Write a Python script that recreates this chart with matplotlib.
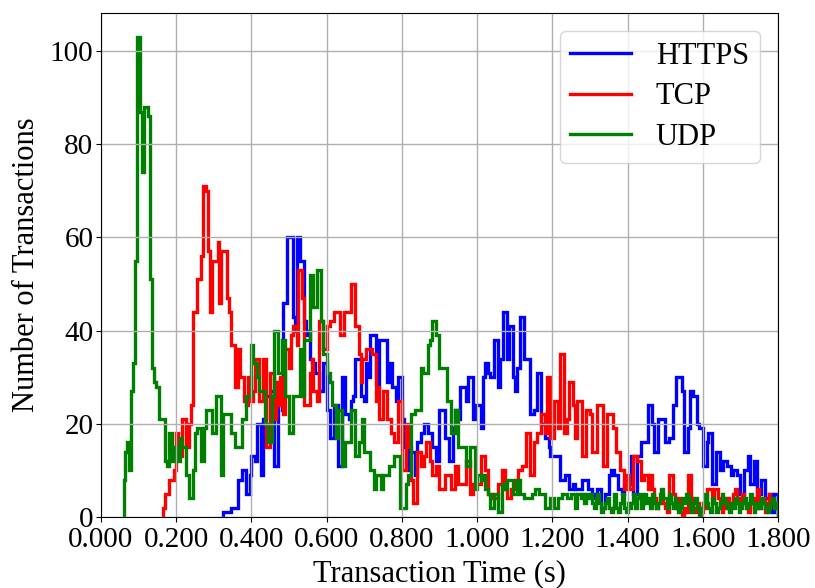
import numpy as np
import matplotlib
matplotlib.use("Agg")
import matplotlib.pyplot as plt

bin_width = 0.005

https_start = 0.325
https_counts = [
    1, 1, 1, 1, 2, 2, 2, 2, 8, 8, 10,
    10, 5, 5, 9, 13, 13, 12, 20, 20, 9, 21, 21, 26, 26, 27, 27, 11, 11, 26, 26, 23, 46, 46, 60, 60,
    60, 43, 40, 60, 60, 55, 55, 42, 39, 40, 34, 33, 33, 31, 31, 27, 27, 33, 33, 23, 23, 17, 17, 24, 24,
    11, 11, 30, 30, 22, 22, 21, 25, 26, 34, 34, 34, 26, 26, 25, 33, 30, 39, 39, 39, 30, 28, 38, 38, 38,
    38, 29, 33, 33, 28, 28, 25, 30, 30, 21, 15, 15, 10, 14, 14, 14, 9, 16, 16, 18, 18, 20, 20, 18, 18,
    15, 15, 12, 12, 23, 23, 23, 17, 17, 12, 12, 19, 23, 23, 21, 28, 28, 28, 25, 30, 30, 30, 21, 24, 24,
    24, 19, 30, 33, 33, 31, 30, 30, 38, 38, 28, 34, 34, 44, 44, 34, 41, 41, 30, 27, 32, 32, 43, 43, 34,
    34, 34, 22, 22, 23, 23, 31, 31, 20, 20, 17, 17, 15, 13, 13, 13, 13, 13, 8, 8, 8, 9, 9, 6, 6,
    7, 6, 6, 6, 6, 8, 8, 8, 6, 6, 5, 4, 4, 6, 6, 2, 2, 5, 5, 9, 10, 10, 9, 9, 6,
    6, 5, 8, 8, 7, 7, 13, 5, 5, 13, 13, 16, 16, 16, 16, 24, 24, 20, 14, 14, 21, 21, 21, 21, 16,
    16, 17, 17, 24, 24, 30, 30, 30, 27, 14, 14, 19, 27, 27, 26, 26, 20, 19, 19, 11, 11, 16, 18, 18, 7,
    7, 14, 14, 10, 10, 12, 12, 11, 11, 9, 10, 10, 9, 9, 5, 5, 10, 10, 13, 7, 7, 12, 12, 5, 5,
    8, 8, 4, 4, 5, 5, 1, 5, 5,
]

tcp_start = 0.165
tcp_counts = [
    2, 5, 5, 8, 8, 8, 10, 18, 15, 13, 21, 21, 15, 15, 20, 24, 44, 44,
    51, 51, 56, 71, 71, 70, 57, 44, 55, 55, 55, 59, 46, 57, 57, 57, 47, 44, 37, 37, 28, 28, 36, 30, 30,
    25, 24, 30, 30, 25, 27, 34, 34, 25, 25, 34, 34, 15, 15, 31, 31, 21, 29, 24, 30, 30, 22, 36, 36, 32,
    39, 41, 41, 37, 53, 53, 47, 24, 24, 24, 31, 34, 27, 27, 25, 42, 42, 36, 36, 41, 41, 42, 42, 44, 44,
    44, 39, 39, 44, 44, 44, 44, 50, 50, 41, 41, 35, 29, 34, 34, 36, 36, 36, 35, 35, 25, 28, 21, 21, 27,
    27, 21, 21, 18, 18, 16, 16, 25, 25, 10, 10, 20, 20, 15, 8, 3, 3, 14, 14, 11, 11, 13, 16, 16, 12,
    9, 9, 11, 11, 6, 6, 6, 9, 9, 9, 6, 6, 11, 11, 7, 7, 7, 7, 12, 12, 5, 5, 7, 7, 7,
    7, 13, 13, 10, 10, 5, 5, 4, 4, 4, 7, 7, 10, 10, 6, 4, 4, 6, 6, 8, 8, 10, 10, 11, 11,
    18, 18, 9, 9, 16, 16, 18, 18, 22, 22, 18, 30, 30, 17, 17, 25, 25, 19, 35, 35, 18, 18, 21, 29, 29,
    24, 17, 25, 25, 25, 13, 13, 23, 23, 22, 14, 14, 14, 24, 24, 24, 11, 11, 22, 22, 22, 19, 19, 14, 14,
    10, 10, 6, 9, 9, 6, 6, 13, 13, 12, 12, 8, 8, 9, 9, 6, 9, 6, 4, 2, 3, 4, 5, 3, 2,
    1, 9, 9, 5, 3, 2, 4, 1, 0, 2, 1, 9, 9, 4, 2, 1, 3, 2, 1, 2, 4, 6, 6, 6, 3,
    6, 6, 4, 2, 1, 3, 2, 4, 2, 3, 5, 6, 4, 2, 3, 5, 3, 2, 1, 3, 4, 2, 3, 6, 2,
    3, 4, 1, 3, 5, 3, 4, 2, 3,
]

udp_start = 0.060
udp_counts = [
    8, 14, 16, 10, 27, 33, 55, 103, 103, 87, 74, 88, 88, 86,
    51, 32, 29, 28, 28, 21, 21, 21, 12, 11, 18, 18, 12, 15, 15, 12, 17, 15, 15, 9, 9, 4, 4, 10, 18,
    19, 19, 12, 12, 19, 23, 23, 23, 18, 18, 26, 26, 26, 9, 22, 22, 22, 22, 18, 18, 15, 15, 15, 15, 21,
    21, 26, 26, 26, 37, 33, 33, 30, 27, 27, 27, 20, 20, 16, 16, 26, 40, 40, 31, 31, 38, 38, 26, 26, 18,
    18, 26, 26, 26, 26, 36, 26, 38, 38, 38, 52, 52, 45, 45, 53, 53, 42, 35, 35, 31, 31, 29, 24, 24, 17,
    23, 23, 11, 11, 16, 16, 16, 23, 23, 13, 13, 16, 16, 21, 14, 14, 14, 10, 10, 6, 9, 9, 9, 6, 9,
    9, 9, 11, 11, 11, 13, 13, 13, 2, 2, 2, 7, 9, 9, 22, 22, 23, 23, 23, 32, 31, 31, 31, 37, 38,
    42, 42, 39, 39, 32, 32, 32, 32, 25, 25, 18, 18, 23, 23, 15, 15, 15, 15, 11, 11, 15, 15, 15, 6, 9,
    9, 8, 9, 6, 6, 5, 2, 2, 5, 5, 1, 1, 7, 7, 6, 8, 8, 8, 5, 5, 8, 8, 5, 5, 4,
    4, 4, 4, 5, 5, 6, 6, 5, 5, 5, 2, 2, 2, 4, 4, 2, 2, 4, 4, 5, 5, 5, 4, 4, 5,
    5, 2, 5, 5, 4, 5, 3, 5, 4, 5, 3, 2, 4, 5, 3, 1, 2, 3, 4, 2, 1, 2, 5, 2, 1,
    3, 5, 2, 1, 3, 2, 3, 5, 2, 4, 5, 2, 3, 5, 3, 4, 2, 5, 3, 2, 3, 5, 6, 4, 4,
    2, 5, 3, 2, 4, 3, 1, 2, 4, 3, 5, 4, 2, 1, 3, 4, 2, 0, 2, 3, 5, 3, 2, 1, 4,
    3, 1, 2, 3, 5, 4, 3, 2, 1, 3, 2, 4, 3, 1, 2, 3, 4, 2, 3, 5, 3, 1, 2, 3, 2,
    4, 3, 2, 1, 2, 3, 4, 2, 3,
]

series_names = ["HTTPS", "TCP", "UDP"]
series_colors = ["blue", "red", "green"]
x_ticks = [0.0, 0.2, 0.4, 0.6, 0.8, 1.0, 1.2, 1.4, 1.6, 1.8]
y_ticks = [0, 20, 40, 60, 80, 100]

plt.rcParams["font.family"] = ["Liberation Serif", "DejaVu Serif"]

fig = plt.figure(figsize=(8.15, 5.88), dpi=100)
ax = fig.add_axes([0.1239, 0.1207, 0.8307, 0.8577])

for name, color, start, counts in zip(
    series_names, series_colors,
    [https_start, tcp_start, udp_start],
    [https_counts, tcp_counts, udp_counts],
):
    counts = np.asarray(counts, dtype=float)
    edges = start + bin_width * np.arange(len(counts) + 1)
    ax.stairs(counts, edges, color=color, linewidth=2.4, label=name, baseline=0)

ax.set_xlim(0, 1.8)
ax.set_ylim(0, 108.2)
ax.set_xticks(x_ticks)
ax.set_xticklabels([f"{v:.3f}" for v in x_ticks])
ax.set_yticks(y_ticks)
ax.tick_params(axis="x", labelsize=21, pad=4)
ax.tick_params(axis="y", labelsize=21, pad=2)
ax.grid(True, color="#b0b0b0", linewidth=1.0)
ax.set_xlabel("Transaction Time (s)", fontsize=22, labelpad=4)
ax.set_ylabel("Number of Transactions", fontsize=22, labelpad=6)
ax.legend(loc="upper right", fontsize=22, handlelength=2.0,
          labelspacing=0.38, borderpad=0.35, borderaxespad=0.6)

fig.savefig("out.png", dpi=100)
